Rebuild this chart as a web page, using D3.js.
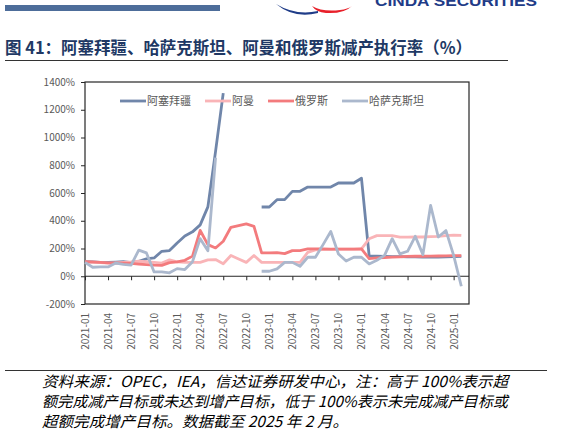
<!DOCTYPE html>
<html>
<head>
<meta charset="utf-8">
<script src="https://cdn.jsdelivr.net/npm/d3@7"></script>
<style>
  body { margin: 0; background: #fff; }
  svg { display: block; font-family: "Noto Sans CJK SC", "Noto Sans", sans-serif; }
</style>
</head>
<body>
<div id="chart"></div>
<script>
// monthly data, 2021-01 .. 2025-02
var months = d3.timeMonth.range(new Date(2021, 0, 1), new Date(2025, 2, 1)).map(d3.timeFormat("%Y-%m"));
var tickLabels = ["2021-01","2021-04","2021-07","2021-10","2022-01","2022-04","2022-07","2022-10",
                  "2023-01","2023-04","2023-07","2023-10","2024-01","2024-04","2024-07","2024-10","2025-01"];
var yTicks = [-200, 0, 200, 400, 600, 800, 1000, 1200, 1400];

var seriesNames = ["阿塞拜疆", "阿曼", "俄罗斯", "哈萨克斯坦"];
var seriesColors = ["#7086aa", "#f9b4b7", "#f37b7d", "#abb8cd"];

var azerbaijan = [105,103,100,100,102,105,98,108,125,132,180,185,240,290,320,370,500,900,1320,
                  null,null,null,null,
                  499,499,552,552,612,612,643,643,643,643,672,672,672,706,
                  146,144,143,142,141,140,139,138,138,138,139,141,144];
var oman = [100,100,98,95,97,100,103,108,105,100,95,118,103,100,100,100,118,120,90,150,125,100,150,
            100,100,100,100,100,100,172,190,192,193,195,195,195,197,
            270,293,293,293,282,282,283,283,285,287,293,297,295];
var russia = [105,103,100,97,95,95,93,88,84,80,78,98,103,115,145,330,228,204,252,353,365,377,360,
              168,168,170,163,185,185,197,197,197,196,196,196,196,197,
              127,132,135,138,140,143,144,144,145,146,147,148,149];
var kazakhstan = [100,65,68,67,95,85,80,188,168,31,31,25,55,48,105,271,183,855,
                  null,null,null,null,null,
                  36,36,53,100,100,72,137,137,228,322,160,110,137,137,
                  89,115,150,271,161,180,288,156,511,283,329,150,-72];
var seriesValues = [azerbaijan, oman, russia, kazakhstan];

var footLines = ["资料来源：OPEC，IEA，信达证券研发中心，注：高于 100%表示超",
                 "额完成减产目标或未达到增产目标，低于 100%表示未完成减产目标或",
                 "超额完成增产目标。数据截至 2025 年 2 月。"];
var footWidths = [466, 466, 306];

var fullWidth = 563, fullHeight = 436;
var plot = {left: 85, right: 469, top: 82, bottom: 304};

var svg = d3.select("#chart").append("svg")
  .attr("width", fullWidth).attr("height", fullHeight);

// header: bar, logo, title
svg.append("rect").attr("x", 5).attr("y", 5).attr("width", 215).attr("height", 6).attr("fill", "#4d6d9a");
svg.append("path").attr("d", "M276,4 Q296,16 318,11 L318,13 Q294,19 276,4 Z").attr("fill", "#1f3c88");
svg.append("path").attr("d", "M312,6 Q322,12 340,10 Q348,9 352,6 Q344,14 326,13 Q316,12 312,6 Z").attr("fill", "#e8202a");
svg.append("text").attr("x", 375).attr("y", 6).attr("font-size", 15).attr("font-weight", "bold")
  .attr("fill", "#1f3c88").attr("textLength", 162).attr("lengthAdjust", "spacingAndGlyphs")
  .attr("font-family", "Liberation Sans, sans-serif").text("CINDA SECURITIES");

svg.append("text").attr("x", 5).attr("y", 54).attr("font-size", 16.5).attr("font-weight", "bold")
  .attr("fill", "#203864").attr("textLength", 467).attr("lengthAdjust", "spacingAndGlyphs")
  .text("图 41：阿塞拜疆、哈萨克斯坦、阿曼和俄罗斯减产执行率（%）");
svg.append("line").attr("x1", 5).attr("x2", 508).attr("y1", 60.5).attr("y2", 60.5)
  .attr("stroke", "#333").attr("stroke-width", 1.2);

// scales
var xScale = d3.scalePoint().domain(months).range([plot.left, plot.left + 49 * 7.68]);
var yScale = d3.scaleLinear().domain([-200, 1400]).range([plot.bottom, plot.top]);

// y axis
var yAxis = d3.axisLeft(yScale).tickValues(yTicks).tickSize(4).tickPadding(6)
  .tickFormat(function(d){ return d + "%"; });
var gy = svg.append("g").attr("transform", "translate(" + plot.left + ",0)").call(yAxis);
gy.select(".domain").remove();
gy.selectAll("line").attr("stroke", "#262626");
gy.selectAll("text").attr("font-size", 10).attr("fill", "#595959")
  .attr("font-family", "Noto Sans CJK SC, sans-serif");

// zero line with ticks
var xAxis = d3.axisBottom(xScale).tickValues(tickLabels).tickSize(4).tickFormat("");
var gx = svg.append("g").attr("transform", "translate(0," + yScale(0) + ")").call(xAxis);
gx.select(".domain").attr("d", "M" + plot.left + ",0H" + plot.right).attr("stroke", "#262626");
gx.selectAll("line").attr("stroke", "#262626");

// month labels below the plot
var xLabels = d3.axisBottom(xScale).tickValues(tickLabels).tickSize(0);
var gl = svg.append("g").attr("transform", "translate(0," + plot.bottom + ")").call(xLabels);
gl.select(".domain").remove();
gl.selectAll("text")
  .attr("transform", "rotate(-90)")
  .attr("text-anchor", "end")
  .attr("x", -9).attr("y", 0).attr("dy", "0.35em")
  .attr("font-size", 10).attr("fill", "#595959")
  .attr("font-family", "Noto Sans CJK SC, sans-serif");

// plot border
svg.append("rect").attr("x", plot.left).attr("y", plot.top)
  .attr("width", plot.right - plot.left).attr("height", plot.bottom - plot.top)
  .attr("fill", "none").attr("stroke", "#262626").attr("stroke-width", 1.2);

// lines
var line = d3.line()
  .defined(function(d){ return d != null; })
  .x(function(d, i){ return xScale(months[i]); })
  .y(function(d){ return yScale(d); });

seriesValues.forEach(function(vals, k){
  svg.append("path").datum(vals)
    .attr("d", line)
    .attr("fill", "none")
    .attr("stroke", seriesColors[k])
    .attr("stroke-width", 2.8)
    .attr("stroke-linejoin", "round");
});

// legend
var lx = 120, ly = 101;
seriesNames.forEach(function(name, k){
  svg.append("line").attr("x1", lx).attr("x2", lx + 26).attr("y1", ly).attr("y2", ly)
    .attr("stroke", seriesColors[k]).attr("stroke-width", 2.8);
  var t = svg.append("text").attr("x", lx + 27).attr("y", ly).attr("dy", "0.35em")
    .attr("font-size", 11).attr("fill", "#595959").text(name);
  lx += 27 + t.node().getComputedTextLength() + 14;
});

// footnote
svg.append("line").attr("x1", 5).attr("x2", 547).attr("y1", 370.5).attr("y2", 370.5)
  .attr("stroke", "#333").attr("stroke-width", 1.2);
footLines.forEach(function(s, i){
  svg.append("text").attr("x", 42).attr("y", 387 + i * 20)
    .attr("font-size", 15).attr("font-style", "italic").attr("fill", "#000")
    .attr("textLength", footWidths[i]).attr("lengthAdjust", "spacingAndGlyphs")
    .text(s);
});
</script>
</body>
</html>
